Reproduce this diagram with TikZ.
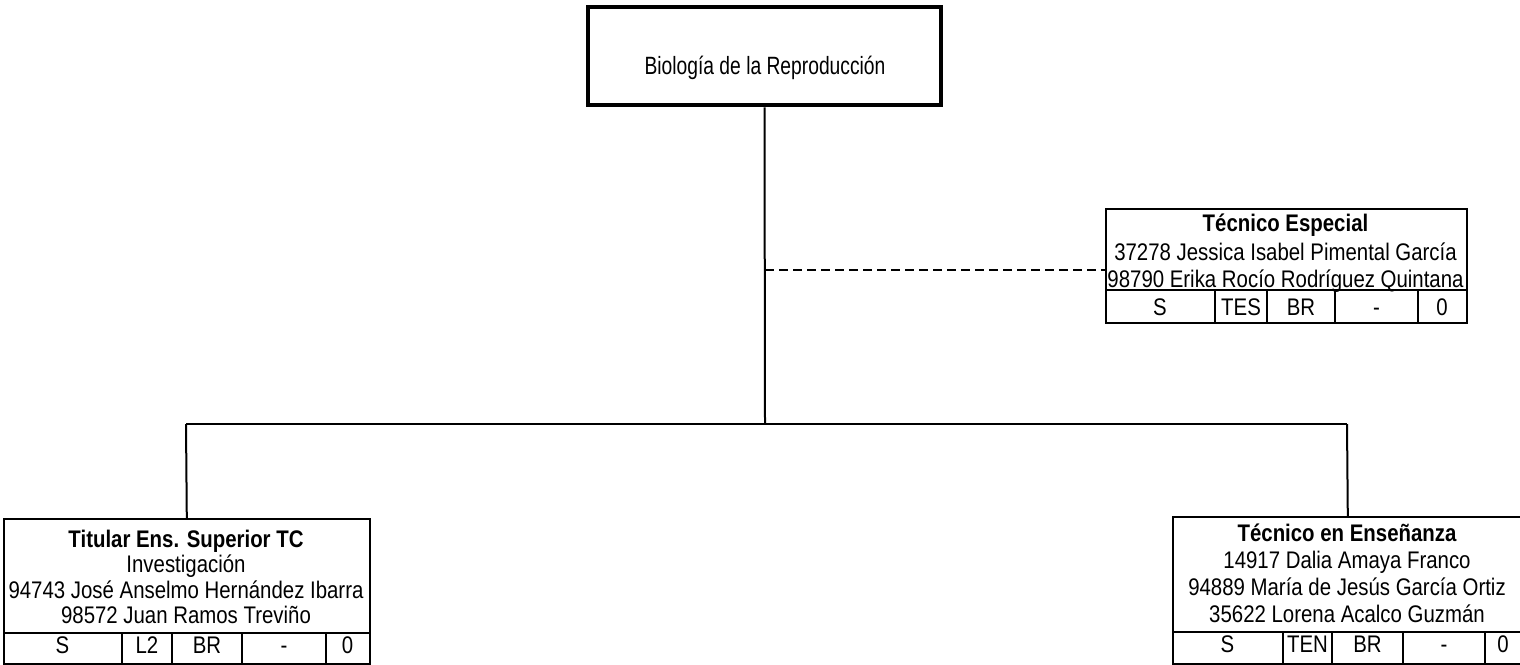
\documentclass[tikz,border=0pt]{standalone}
\usepackage{fontspec}
\setmainfont{Liberation Sans}[FakeStretch=0.85]
\newfontfamily\topfont{Liberation Sans}[FakeStretch=0.77]
\begin{document}
\begin{tikzpicture}[x=1pt,y=-1pt,
  font=\fontsize{24}{28}\selectfont,
  box/.style={draw, line width=1.6pt, inner sep=0pt, anchor=north west},
  topbox/.style={draw, line width=4.5pt, inner sep=0pt},
  txt/.style={anchor=base, inner sep=0pt},
  bold/.style={txt, font=\fontsize{24}{28}\selectfont\bfseries},
  cell/.style={line width=1.6pt},
  conn/.style={line width=2pt},
  dashconn/.style={line width=2pt, dash pattern=on 9pt off 5pt}
]
\useasboundingbox (0,0) rectangle (1520,664);

% top unit
\node[topbox, minimum width=353pt, minimum height=98pt] (top) at (764.5,56) {};
\node[txt, font=\fontsize{25}{30}\topfont] (toptxt) at (765,74) {Biología de la Reproducción};

% Tecnico Especial
\node[box, minimum width=361pt, minimum height=114pt] (te) at (1105,208) {};
\node[bold] (te1) at (1285.5,231) {Técnico Especial};
\node[txt] (te2) at (1285.5,260) {37278 Jessica Isabel Pimental García};
\node[txt] (te3) at (1285.5,287) {98790 Erika Rocío Rodríguez Quintana};
\draw[cell] (1105,290) -- (1466,290);
\foreach \x in {1215,1267,1335,1418} \draw[cell] (\x,290) -- (\x,322);
\node[txt] (tes) at (1160,315) {S};
\node[txt] (tet) at (1241,315) {TES};
\node[txt] (teb) at (1301,315) {BR};
\node[txt] (ted) at (1376.5,315) {-};
\node[txt] (tez) at (1442,315) {0};

% Titular box
\node[box, minimum width=366pt, minimum height=145pt] (lb) at (3,518) {};
\node[bold] (lb1) at (186,547) {Titular Ens. Superior TC};
\node[txt] (lb2) at (186,572.5) {Investigación};
\node[txt] (lb3) at (186,598) {94743 José Anselmo Hernández Ibarra};
\node[txt] (lb4) at (186,623) {98572 Juan Ramos Treviño};
\draw[cell] (3,633) -- (369,633);
\foreach \x in {122,172,242,326} \draw[cell] (\x,633) -- (\x,663);
\node[txt] (lbs) at (62.5,653) {S};
\node[txt] (lbl) at (147,653) {L2};
\node[txt] (lbb) at (207,653) {BR};
\node[txt] (lbd) at (284,653) {-};
\node[txt] (lbz) at (347.5,653) {0};

% Tecnico en Ensenanza box
\node[box, minimum width=350pt, minimum height=147pt] (rb) at (1172,516) {};
\node[bold] (rb1) at (1347,541) {Técnico en Enseñanza};
\node[txt] (rb2) at (1347,568) {14917 Dalia Amaya Franco};
\node[txt] (rb3) at (1347,595) {94889 María de Jesús García Ortiz};
\node[txt] (rb4) at (1347,622) {35622 Lorena Acalco Guzmán};
\draw[cell] (1172,632) -- (1522,632);
\foreach \x in {1283,1332,1403,1485} \draw[cell] (\x,632) -- (\x,663);
\node[txt] (rbs) at (1227.5,652) {S};
\node[txt] (rbt) at (1307.5,652) {TEN};
\node[txt] (rbb) at (1367.5,652) {BR};
\node[txt] (rbd) at (1444,652) {-};
\node[txt] (rbz) at (1503,652) {0};

% connectors
\coordinate (hub) at (765,424);
\coordinate (lj) at (186,424);
\coordinate (rj) at (1347,424);
\coordinate (dj) at (765,270);
\draw[conn] (top.south) -- (hub);
\draw[conn] (lj) -- (rj);
\draw[conn] (lj) -- (lb.north);
\draw[conn] (rj) -- (rb.north);
\draw[dashconn] (dj) -- (dj -| te.west);
\end{tikzpicture}
\end{document}
